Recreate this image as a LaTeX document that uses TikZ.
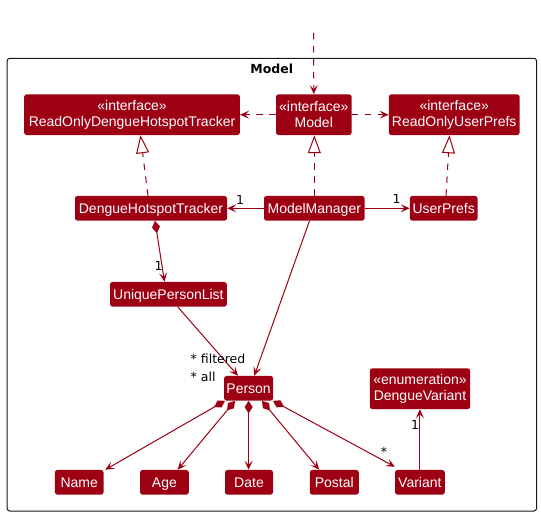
\documentclass[tikz,border=0pt]{standalone}
\usepackage{fontspec}
\setmainfont{Liberation Sans}
\newfontfamily\labelfont{DejaVu Sans}
\usetikzlibrary{arrows.meta,calc}
\definecolor{modelred}{HTML}{9D0012}
\definecolor{framegray}{HTML}{181818}

\tikzset{
  clsbase/.style={fill=modelred, text=white, rounded corners=2.5pt, inner sep=0pt,
    align=center, font=\fontsize{14}{16}\selectfont},
  cls/.style={clsbase, minimum height=24.7pt, text height=10pt, text depth=0pt},
  cls2/.style={clsbase, minimum height=40.7pt},
  assoc/.style={draw=modelred, line width=1pt,
    -{Stealth[length=9pt,width=8pt,inset=4pt]}},
  dep/.style={assoc, dash pattern=on 6.5pt off 6.5pt},
  realize/.style={draw=modelred, line width=1pt, dash pattern=on 6.5pt off 6.5pt,
    -{Triangle[open,length=18pt,width=13pt,fill=white]}},
  compose/.style={draw=modelred, line width=1pt,
    {Diamond[length=12.5pt,width=8pt]}-{Stealth[length=9pt,width=8pt,inset=4pt]}},
  mult/.style={font=\labelfont\fontsize{12.5}{14}\selectfont, text=black, inner sep=0pt},
  pkgtitle/.style={font=\labelfont\bfseries\fontsize{12.5}{14}\selectfont, text=black, inner sep=0pt}
}

\begin{document}
\begin{tikzpicture}[x=1pt,y=-1pt]
\useasboundingbox (0,0) rectangle (541,516);

% package frame
\draw[framegray, line width=1pt, rounded corners=2.5pt] (7.2,58.3) rectangle (536.5,511);
\node[pkgtitle] (title) at (271.8,69) {Model};

% interfaces
\node[cls2, minimum width=215.7pt] (rodht) at (132,114.7) {«interface»\\ReadOnlyDengueHotspotTracker};
\node[cls2, minimum width=75.6pt] (model) at (313.8,114.7) {«interface»\\Model};
\node[cls2, minimum width=130.8pt] (roup) at (454.2,114.7) {«interface»\\ReadOnlyUserPrefs};

% implementations
\node[cls, minimum width=152pt] (dht) at (151,208.3) {DengueHotspotTracker};
\node[cls, minimum width=100.6pt] (mm) at (314.3,208.3) {ModelManager};
\node[cls, minimum width=67.6pt] (up) at (443.7,208.3) {UserPrefs};
\node[cls, minimum width=116.7pt] (upl) at (168.4,294.3) {UniquePersonList};

% person and its parts
\node[cls, minimum width=49pt] (person) at (248.6,388.3) {Person};
\node[cls2, minimum width=100.4pt] (dv) at (420,388.7) {«enumeration»\\DengueVariant};
\node[cls, minimum width=48.6pt] (name) at (79.2,482.3) {Name};
\node[cls, minimum width=48.7pt] (age) at (164.4,482.3) {Age};
\node[cls, minimum width=48pt] (date) at (249,482.3) {Date};
\node[cls, minimum width=49pt] (postal) at (334.3,482.3) {Postal};
\node[cls, minimum width=49.7pt] (variant) at (419.9,482.3) {Variant};

% incoming dependency
\coordinate (entry) at (313.6,33);
\draw[dep] (entry) -- (model.north);

% Model depends on the read-only views
\draw[dep] (model.west) -- (rodht.east);
\draw[dep] (model.east) -- (roup.west);

% realizations
\draw[realize] ([xshift=-3pt]dht.north) -- ([xshift=8.4pt]rodht.south);
\draw[realize] (mm.north) -- (mm.north |- model.south);
\draw[realize] ([xshift=2.3pt]up.north) -- ([xshift=-4.7pt]roup.south);

% associations from ModelManager
\draw[assoc] (mm.west) -- (dht.east);
\draw[assoc] (mm.east) -- (up.west);
\node[mult] (m-dht) at (240,200) {1};
\node[mult] (m-up) at (396.7,199) {1};

% tracker owns the person list
\draw[compose] ([xshift=4pt]dht.south) -- ([xshift=-3.9pt]upl.north);
\node[mult] (m-upl) at (158.7,265.5) {1};

% person references
\draw[assoc] ([xshift=9.3pt]upl.south) -- ([xshift=-10.6pt]person.north);
\draw[assoc] ([xshift=-4.8pt]mm.south) -- ([xshift=5.7pt]person.north);
\node[mult, anchor=west] (m-filtered) at (190.5,359) {* filtered};
\node[mult, anchor=west] (m-all) at (190.5,377) {* all};

% person composition
\draw[compose] ([xshift=-23.6pt]person.south) -- ([xshift=26pt]name.north);
\draw[compose] ([xshift=-13.6pt]person.south) -- ([xshift=13.3pt]age.north);
\draw[compose] (person.south) -- (person.south |- date.north);
\draw[compose] ([xshift=13.4pt]person.south) -- ([xshift=-15.2pt]postal.north);
\draw[compose] ([xshift=24.4pt]person.south) -- ([yshift=3pt]variant.north west);
\node[mult] (m-variant) at (384,452) {*};

% variant to enumeration
\draw[assoc] (variant.north) -- (variant.north |- dv.south);
\node[mult] (m-dv) at (415,425) {1};
\end{tikzpicture}
\end{document}
